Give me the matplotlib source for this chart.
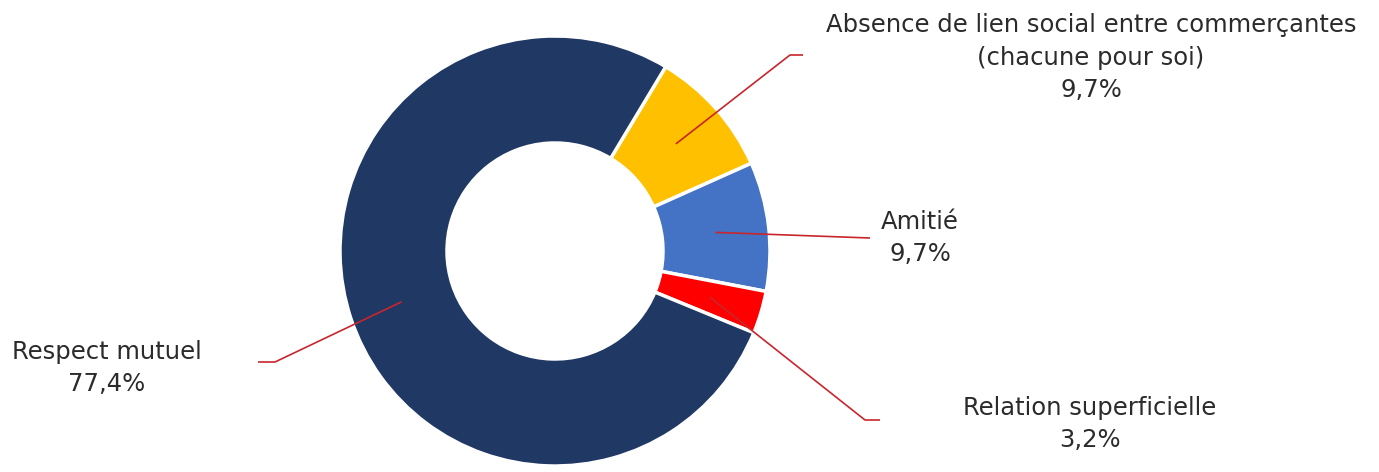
import numpy as np
import matplotlib
matplotlib.use('Agg')
import matplotlib.pyplot as plt

# data
labels = ["Absence de lien social entre commerçantes\n(chacune pour soi)",
          "Amitié", "Relation superficielle", "Respect mutuel"]
values = [9.7, 9.7, 3.2, 77.4]
pct_text = ["9,7%", "9,7%", "3,2%", "77,4%"]
colors = ["#FFC000", "#4472C4", "#FF0000", "#203864"]

W, H = 1379, 472
fig = plt.figure(figsize=(W / 100, H / 100), dpi=100)
ax = fig.add_axes([0, 0, 1, 1])

cx, cy = 555, H - 251
R = 215
hole = 108
start = 59

wedges, _ = ax.pie(values, colors=colors, startangle=start, counterclock=False,
                   radius=R, center=(cx, cy), frame=True,
                   wedgeprops=dict(width=R - hole, edgecolor='white', linewidth=2.5))
ax.set_xlim(0, W)
ax.set_ylim(0, H)
ax.set_aspect('equal')
ax.axis('off')

# label placement: (elbow x, elbow y, end x, text x, text y center of first line)
layout = [
    (790, 55, 803, 1091, 25),
    (870, 238, 870, 920, 222),
    (865, 420, 880, 1090, 408),
    (275, 362, 258, 107, 352),
]
rmid = (R + hole) / 2
line_col = "#C8262C"
txt_col = "#2B2B2B"
for w, lab, pct, (ex, ey, endx, tx, ty) in zip(wedges, labels, pct_text, layout):
    ang = np.deg2rad((w.theta1 + w.theta2) / 2)
    px = cx + rmid * np.cos(ang)
    py = cy + rmid * np.sin(ang)
    ax.plot([px, ex, endx], [py, H - ey, H - ey], color=line_col, lw=1.2,
            solid_capstyle='butt', zorder=3)
    for k, line in enumerate((lab + "\n" + pct).split("\n")):
        ax.text(tx, H - ty - 32.5 * k, line, ha='center', va='center',
                fontsize=17.5, family='DejaVu Sans', color=txt_col)

fig.savefig("out.png", dpi=100)
